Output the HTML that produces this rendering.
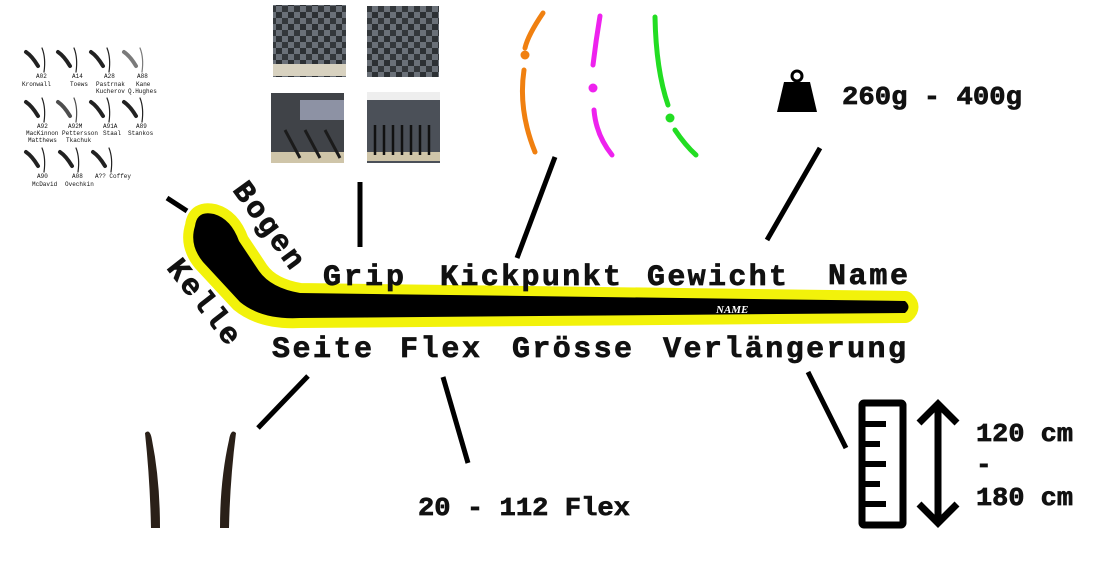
<!DOCTYPE html>
<html><head><meta charset="utf-8"><style>
html,body{margin:0;padding:0;background:#fff;width:1100px;height:576px;overflow:hidden}
svg{display:block}
text{font-family:"Liberation Mono","Courier New",monospace;font-weight:bold;fill:#111}
.s{font-size:6px;font-weight:normal}
.b text{stroke:#111;stroke-width:0.7}
</style></head><body>
<svg width="1100" height="576" viewBox="0 0 1100 576" xmlns="http://www.w3.org/2000/svg">
<g fill="#333" stroke="#222" stroke-width="3" stroke-linecap="round">
<g id="c"><path d="M26 52 Q32 56 38 66" fill="none" stroke-width="4"/><path d="M42 48 Q46 58 44 72" fill="none" stroke-width="1.2"/></g>
<use href="#c" x="32"/><use href="#c" x="65"/><use href="#c" x="98" opacity="0.6"/>
<use href="#c" x="0" y="50"/><use href="#c" x="32" y="50" opacity="0.8"/><use href="#c" x="65" y="50"/><use href="#c" x="98" y="50"/>
<use href="#c" x="0" y="100"/><use href="#c" x="34" y="100"/><use href="#c" x="67" y="100"/>
</g>
<g class="s">
<text x="36" y="78" class="s">A02</text><text x="22" y="86" class="s">Kronwall</text>
<text x="72" y="78" class="s">A14</text><text x="70" y="86" class="s">Toews</text>
<text x="104" y="78" class="s">A28</text><text x="96" y="86" class="s">Pastrnak</text><text x="96" y="93" class="s">Kucherov</text>
<text x="137" y="78" class="s">A88</text><text x="136" y="86" class="s">Kane</text><text x="128" y="93" class="s">Q.Hughes</text>
<text x="37" y="128" class="s">A92</text><text x="26" y="135" class="s">MacKinnon</text><text x="28" y="142" class="s">Matthews</text>
<text x="68" y="128" class="s">A92M</text><text x="62" y="135" class="s">Pettersson</text><text x="66" y="142" class="s">Tkachuk</text>
<text x="103" y="128" class="s">A91A</text><text x="103" y="135" class="s">Staal</text>
<text x="136" y="128" class="s">A89</text><text x="128" y="135" class="s">Stankos</text>
<text x="37" y="178" class="s">A90</text><text x="32" y="186" class="s">McDavid</text>
<text x="72" y="178" class="s">A08</text><text x="65" y="186" class="s">Ovechkin</text>
<text x="95" y="178" class="s">A?? Coffey</text>
</g>
<defs>
<pattern id="ck" width="12" height="12" patternUnits="userSpaceOnUse"><rect width="12" height="12" fill="#6a7078"/><rect width="6" height="6" fill="#2c3034"/><rect x="6" y="6" width="6" height="6" fill="#33373b"/></pattern>
</defs>
<rect x="273" y="5" width="73" height="72" fill="url(#ck)"/><rect x="273" y="64" width="73" height="12" fill="#d8d2c0"/>
<rect x="367" y="6" width="72" height="71" fill="url(#ck)"/>
<rect x="271" y="93" width="73" height="70" fill="#404348"/><rect x="300" y="100" width="44" height="20" fill="#8d92a4"/><rect x="271" y="152" width="73" height="11" fill="#cfc5a9"/>
<g stroke="#1b1b1b" stroke-width="3"><line x1="285" y1="130" x2="300" y2="158"/><line x1="305" y1="130" x2="320" y2="158"/><line x1="325" y1="130" x2="340" y2="158"/></g>
<rect x="367" y="92" width="73" height="71" fill="#4b5058"/><rect x="367" y="92" width="73" height="8" fill="#eee"/><rect x="367" y="152" width="73" height="9" fill="#cfc5a9"/>
<g stroke="#111" stroke-width="2.5"><line x1="375" y1="125" x2="375" y2="155"/><line x1="384" y1="125" x2="384" y2="155"/><line x1="393" y1="125" x2="393" y2="155"/><line x1="402" y1="125" x2="402" y2="155"/><line x1="411" y1="125" x2="411" y2="155"/><line x1="420" y1="125" x2="420" y2="155"/><line x1="429" y1="125" x2="429" y2="155"/></g>
<g fill="none" stroke-width="5" stroke-linecap="round">
<path d="M543 13 Q528 35 525 48" stroke="#f08010"/><path d="M524 70 Q518 110 535 152" stroke="#f08010"/>
<path d="M600 16 Q596 40 593 65" stroke="#ee22ee"/><path d="M594 110 Q596 135 612 155" stroke="#ee22ee"/>
<path d="M655 17 Q656 70 668 105" stroke="#22dd22"/><path d="M675 130 Q685 145 696 155" stroke="#22dd22"/>
</g>
<circle cx="525" cy="55" r="4.5" fill="#f08010"/><circle cx="593" cy="88" r="4.5" fill="#ee22ee"/><circle cx="670" cy="118" r="4.5" fill="#22dd22"/>
<circle cx="797" cy="76" r="5" fill="none" stroke="#000" stroke-width="3"/>
<path d="M784 82 L810 82 L817 112 L777 112 Z" fill="#000"/>
<g class="b"><text x="842" y="104" font-size="26" textLength="180" lengthAdjust="spacingAndGlyphs">260g - 400g</text></g>
<g stroke="#000" stroke-width="5" stroke-linecap="butt">
<line x1="167" y1="198" x2="187" y2="211"/>
<line x1="360" y1="182" x2="360" y2="247"/>
<line x1="555" y1="157" x2="517" y2="258"/>
<line x1="820" y1="148" x2="767" y2="240"/>
<line x1="308" y1="376" x2="258" y2="428"/>
<line x1="443" y1="377" x2="468" y2="463"/>
<line x1="808" y1="372" x2="846" y2="448"/>
</g>
<path d="M195 226 Q197 210 214 214 Q231 219 239 241 L259 271 Q271 288 300 293 L905 301 Q912 307 905 313 L300 318 Q262 320 240 302 L203 262 Q189 245 195 226 Z" fill="#f2f20a" stroke="#f2f20a" stroke-width="20" stroke-linejoin="round"/>
<path d="M195 226 Q197 210 214 214 Q231 219 239 241 L259 271 Q271 288 300 293 L905 301 Q912 307 905 313 L300 318 Q262 320 240 302 L203 262 Q189 245 195 226 Z" fill="#000"/>
<text x="716" y="313" font-size="11" font-style="italic" style="fill:#fff;font-family:'Liberation Serif',serif">NAME</text>
<g font-size="30" class="b">
<text x="323" y="285" textLength="81">Grip</text>
<text x="440" y="285" textLength="181">Kickpunkt</text>
<text x="647" y="285" textLength="140">Gewicht</text>
<text x="828" y="284" textLength="80">Name</text>
<text x="272" y="357" textLength="100">Seite</text>
<text x="400" y="357" textLength="80">Flex</text>
<text x="512" y="357" textLength="120">Grösse</text>
<text x="663" y="357" textLength="243">Verlängerung</text>
<text transform="translate(232,190) rotate(54)" textLength="100">Bogen</text>
<text transform="translate(166,268) rotate(52)" textLength="100">Kelle</text>
</g>
<g fill="#2a2018">
<path d="M145 433 Q150 428 152 440 Q160 480 160 528 L151 528 Q150 480 145 433 Z"/>
<path d="M236 433 Q231 428 229 440 Q220 480 220 528 L229 528 Q230 480 236 433 Z"/>
</g>
<g class="b"><text x="418" y="515" font-size="26" textLength="212" lengthAdjust="spacingAndGlyphs">20 - 112 Flex</text></g>
<rect x="862" y="403" width="41" height="122" fill="none" stroke="#000" stroke-width="7" rx="2"/>
<g stroke="#000" stroke-width="6"><line x1="862" y1="424" x2="886" y2="424"/><line x1="862" y1="444" x2="880" y2="444"/><line x1="862" y1="464" x2="886" y2="464"/><line x1="862" y1="484" x2="880" y2="484"/><line x1="862" y1="504" x2="886" y2="504"/></g>
<g stroke="#000" stroke-width="7" fill="none"><line x1="938" y1="405" x2="938" y2="522"/><polyline points="919,423 938,404 957,423"/><polyline points="919,504 938,523 957,504"/></g>
<g font-size="26" class="b">
<text x="976" y="441" textLength="97" lengthAdjust="spacingAndGlyphs">120 cm</text>
<text x="976" y="472">-</text>
<text x="976" y="505" textLength="97" lengthAdjust="spacingAndGlyphs">180 cm</text>
</g>
</svg>
</body></html>
